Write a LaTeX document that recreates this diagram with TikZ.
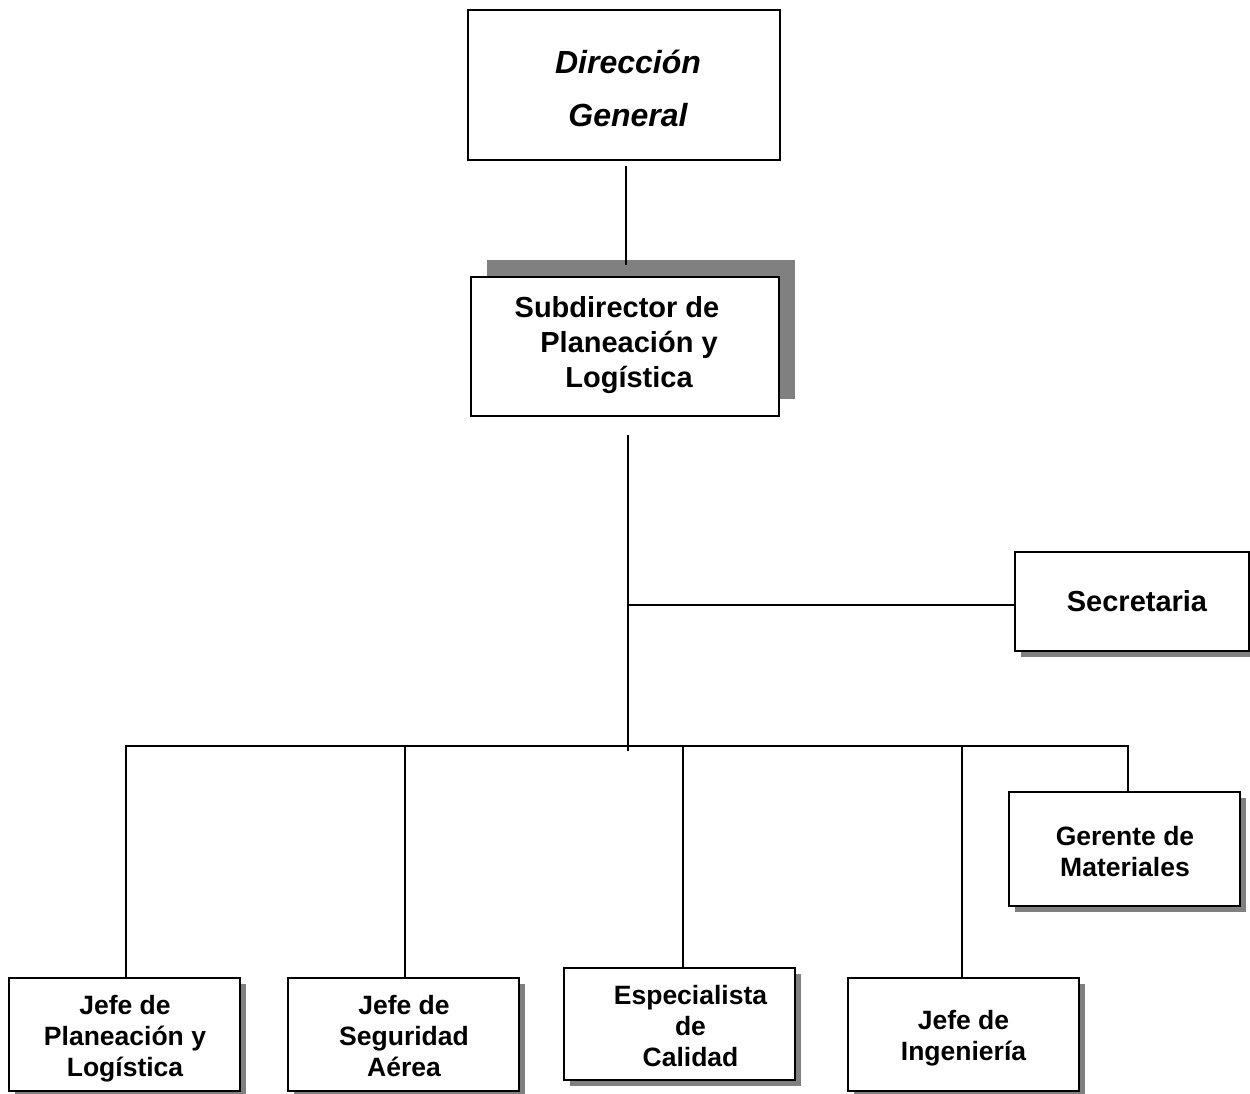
\documentclass[tikz,border=0pt]{standalone}
\usepackage{fontspec}
\setmainfont{Liberation Sans}
\usetikzlibrary{shadows,calc}
\definecolor{shade}{RGB}{128,128,128}
\begin{document}
\begin{tikzpicture}[x=1pt,y=-1pt,
  rule/.style={line width=2pt,line cap=rect},
  unit/.style={draw,line width=2pt,fill=white,inner sep=0pt},
  lbl/.style={align=center,inner sep=0pt,font=\bfseries\fontsize{26.5}{31}\selectfont},
  lowshadow/.style={general shadow={shadow xshift=6pt,shadow yshift=-6pt,fill=shade,opacity=1}},
  highshadow/.style={general shadow={shadow xshift=16pt,shadow yshift=16.5pt,fill=shade,opacity=1}}]
\useasboundingbox (0,0) rectangle (1250,1093);

% top of the chart
\node[unit,minimum width=312pt,minimum height=150pt] (dir) at (624,85) {};
\node[lbl,font=\bfseries\itshape\fontsize{32}{53}\selectfont] (dirT) at ($(dir.center)+(4,4)$)
  {\strut Dirección\\General\strut};
\node[unit,highshadow,minimum width=308pt,minimum height=139pt] (sub) at (625,346) {};
\node[lbl,font=\bfseries\fontsize{29}{35}\selectfont] (subT) at ($(sub.center)+(4,-1)$)
  {\strut Subdirector de\hspace*{24pt}\\Planeación y\\Logística\strut};
\draw[rule] ($(dir.south)+(2,6)$) -- ($(sub.north)+(1,-12)$);

% staff position
\node[unit,lowshadow,minimum width=234pt,minimum height=99pt] (sec) at (1131.5,601.5) {};
\node[lbl,font=\bfseries\fontsize{29}{31}\selectfont] (secT) at ($(sec.center)+(5.5,3.5)$) {\strut Secretaria};

% trunk and bus
\coordinate (trunktop) at (628,436);
\coordinate (hub) at (628,750);
\coordinate (busL) at (126,746);
\coordinate (busR) at (1128,746);
\draw[rule] (trunktop) -- (hub);
\draw[rule] (628,605) -- (sec.west |- 0,605);
\draw[rule] (busL) -- (busR);

% subordinate units
\node[unit,lowshadow,minimum width=231pt,minimum height=114pt] (ger) at (1124.5,849) {};
\node[lbl] (gerT) at ($(ger.center)+(0.5,5.5)$) {\strut Gerente de\\Materiales\strut};
\node[unit,lowshadow,minimum width=231pt,minimum height=113pt] (jpl) at (124.5,1034) {};
\node[lbl] (jplT) at ($(jpl.center)+(0.5,5)$) {\strut Jefe de\\Planeación y\\Logística\strut};
\node[unit,lowshadow,minimum width=231pt,minimum height=113pt] (jsa) at (403.5,1034) {};
\node[lbl] (jsaT) at ($(jsa.center)+(0.5,5)$) {\strut Jefe de\\Seguridad\\Aérea\strut};
\node[unit,lowshadow,minimum width=231pt,minimum height=112pt] (esp) at (679.5,1024) {};
\node[lbl] (espT) at ($(esp.center)+(11,5.5)$) {\strut Especialista\\de\\Calidad\strut};
\node[unit,lowshadow,minimum width=231pt,minimum height=113pt] (jin) at (963.5,1034) {};
\node[lbl] (jinT) at ($(jin.center)+(0,5)$) {\strut Jefe de\\Ingeniería\strut};

\draw[rule] (busL) -- (busL |- jpl.north);
\draw[rule] (405,746) -- (405,746 |- jsa.north);
\draw[rule] (683,746) -- (683,746 |- esp.north);
\draw[rule] (962,746) -- (962,746 |- jin.north);
\draw[rule] (busR) -- (busR |- ger.north);
\end{tikzpicture}
\end{document}
